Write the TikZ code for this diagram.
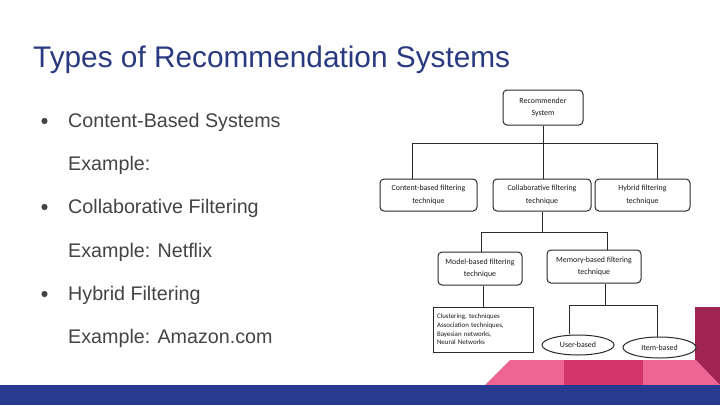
\documentclass[tikz,border=0pt]{standalone}
\usepackage{fontspec}
\setmainfont{Liberation Sans}
\newfontfamily\dfont{Carlito}
\usetikzlibrary{shapes.geometric}
\definecolor{titleblue}{HTML}{2A3A80}
\definecolor{bodygray}{HTML}{444444}
\definecolor{navy}{HTML}{283B91}
\definecolor{pinklight}{HTML}{EE6493}
\definecolor{pinkdark}{HTML}{D4356B}
\definecolor{maroon}{HTML}{9E2452}
\definecolor{dline}{HTML}{2A2A2A}
\tikzset{
  bodytext/.style={anchor=base west, inner sep=0pt, text=bodygray, font=\fontsize{19.7}{23}\selectfont},
  bulletdot/.style={circle, fill=bodygray, inner sep=0pt, minimum size=6.2pt},
  rbox/.style={draw=dline, line width=1pt, rounded corners=4pt, fill=white, align=center, inner sep=0pt,
    text=black!90, font=\dfont\fontsize{7.9}{12.5}\selectfont},
  sbox/.style={draw=dline, line width=1pt, fill=white, align=left, inner sep=0pt,
    text=black!90, font=\dfont\fontsize{6.9}{8.7}\selectfont},
  ebox/.style={ellipse, draw=dline, line width=1pt, fill=white, inner sep=0pt,
    text=black!90, font=\dfont\fontsize{7.9}{9}\selectfont},
  conn/.style={draw=dline, line width=1pt},
}
\begin{document}
\begin{tikzpicture}[x=1pt,y=-1pt]
\useasboundingbox (0,0) rectangle (720,405);
\fill[white] (0,0) rectangle (720,405);
% title
\node[anchor=base west, inner sep=0pt, text=titleblue, font=\fontsize{29.8}{34}\selectfont] (title) at (33,67) {Types of Recommendation Systems};
% bullets
\node[bulletdot] (d1) at (44.5,121) {};
\node[bodytext] (t1) at (68,127) {Content-Based Systems};
\node[bodytext] (t2) at (68,170) {Example:};
\node[bulletdot] (d2) at (44.5,207) {};
\node[bodytext] (t3) at (68,213) {Collaborative Filtering};
\node[bodytext] (t4) at (68,257) {Example: Netflix};
\node[bulletdot] (d3) at (44.5,294) {};
\node[bodytext] (t5) at (68,300) {Hybrid Filtering};
\node[bodytext] (t6) at (68,343) {Example: Amazon.com};
% bottom decoration
\fill[maroon] (695,307) rectangle (720,385);
\fill[pinklight] (485,385) -- (510,360) -- (564,360) -- (564,385) -- cycle;
\fill[pinkdark] (564,360) rectangle (643,385);
\fill[pinklight] (643,360) -- (696,360) -- (720,385) -- (643,385) -- cycle;
\fill[navy] (0,385) rectangle (720,405);
% diagram nodes
\node[rbox, minimum width=80pt, minimum height=35pt] (root) at (543,107.5) {Recommender\\System};
\node[rbox, minimum width=97pt, minimum height=32pt] (cb) at (428.5,195) {Content-based filtering\\technique};
\node[rbox, minimum width=98pt, minimum height=32pt] (col) at (542,195) {Collaborative filtering\\technique};
\node[rbox, minimum width=95pt, minimum height=32pt] (hyb) at (642.5,195) {Hybrid filtering\\technique};
\node[rbox, minimum width=84pt, minimum height=33pt] (model) at (480,268.5) {Model-based filtering\\technique};
\node[rbox, minimum width=94pt, minimum height=33pt] (memory) at (594,266.5) {Memory-based filtering\\technique};
\node[sbox, minimum width=100pt, minimum height=45pt, text width=92pt] (clus) at (483,329.5) {Clustering, techniques\\Association techniques,\\Bayesian networks,\\Neural Networks};
\node[ebox, minimum width=72pt, minimum height=20pt] (user) at (578,345) {User-based};
\node[ebox, minimum width=73pt, minimum height=21pt] (item) at (659.5,347.5) {Item-based};
% connector junctions
\coordinate (b1) at (412,143);
\coordinate (b3) at (657,143);
\coordinate (c1) at (481,232);
\coordinate (c2) at (607,232);
\coordinate (mv) at (605,305);
\coordinate (m1) at (569,305);
\coordinate (m2) at (657,305);
% connectors
\draw[conn] (root.south) -- (root.south |- col.north);
\draw[conn] (b1 |- cb.north) -- (b1) -- (b3) -- (b3 |- hyb.north);
\draw[conn] (col.south) -- (col.south |- c1);
\draw[conn] (c1 |- model.north) -- (c1) -- (c2) -- (c2 |- memory.north);
\draw[conn] (clus.north |- model.south) -- (clus.north);
\draw[conn] (mv |- memory.south) -- (mv);
\draw[conn] ([yshift=0.3pt]m1 |- user.north) -- (m1) -- (m2) -- (m2 |- item.north);
\end{tikzpicture}
\end{document}
